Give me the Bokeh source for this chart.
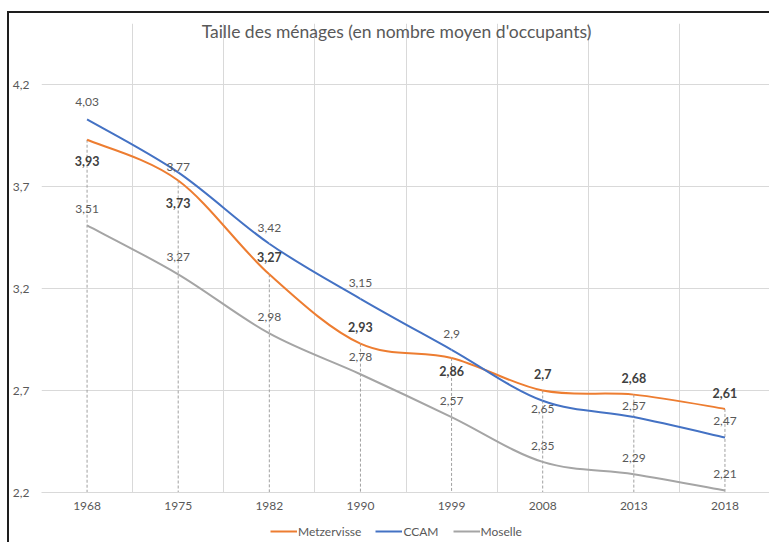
import numpy as np
from bokeh.plotting import figure
from bokeh.layouts import column
from bokeh.models import FixedTicker, Label, Legend, LegendItem, ColumnDataSource
from bokeh.core.properties import value
from bokeh.embed import file_html
from bokeh.resources import INLINE

# ---- data ----
years = ["1968", "1975", "1982", "1990", "1999", "2008", "2013", "2018"]
metzervisse = [3.93, 3.73, 3.27, 2.93, 2.86, 2.70, 2.68, 2.61]
ccam = [4.03, 3.77, 3.42, 3.15, 2.90, 2.65, 2.57, 2.47]
moselle = [3.51, 3.27, 2.98, 2.78, 2.57, 2.35, 2.29, 2.21]
y_ticks = [2.2, 2.7, 3.2, 3.7, 4.2]
series_names = ["Metzervisse", "CCAM", "Moselle"]
title_text = "Taille des ménages (en nombre moyen d'occupants)"

# ---- label offsets (screen px, style only) ----
off_metz = [21, 22, -17, -17, 13, -17, -17, -16]
off_ccam = [-17, -5, -16, -16, -16, 8, -11, -16]
off_mos = [-16, -17, -16, -17, -16, -16, -16, -16]

FONT = "Lato"
TXT = "#595959"
C_METZ = "#ED7D31"
C_CCAM = "#4472C4"
C_MOS = "#A5A5A5"
GRID = "#D9D9D9"
BORDER = "2px solid #1e1e1e"

def fmt(v):
    return f"{v:g}".replace(".", ",")

xs = list(range(len(years)))

def bezier_source(ys):
    P = np.array([[x, y] for x, y in zip(xs, ys)], dtype=float)
    n = len(P)
    d = dict(x0=[], y0=[], x1=[], y1=[], cx0=[], cy0=[], cx1=[], cy1=[])
    for i in range(n - 1):
        p0 = P[i - 1] if i > 0 else P[i]
        p1 = P[i]
        p2 = P[i + 1]
        p3 = P[i + 2] if i + 2 < n else P[i + 1]
        c1 = p1 + (p2 - p0) / 6.0
        c2 = p2 - (p3 - p1) / 6.0
        d["x0"].append(p1[0]); d["y0"].append(p1[1])
        d["x1"].append(p2[0]); d["y1"].append(p2[1])
        d["cx0"].append(c1[0]); d["cy0"].append(c1[1])
        d["cx1"].append(c2[0]); d["cy1"].append(c2[1])
    return ColumnDataSource(d)

W = 762
LEG_H = 26
p = figure(width=W, height=505, output_backend="svg", toolbar_location=None,
           x_range=(-0.5, len(years) - 0.5), y_range=(2.2, 4.5),
           min_border_left=31, min_border_right=1, min_border_top=10,
           min_border_bottom=26)
p.margin = (11, 0, 0, 7)
p.styles = {"border-top": BORDER, "border-left": BORDER}
p.outline_line_color = None
p.background_fill_color = "white"
p.border_fill_color = "white"

# grids
p.xgrid.ticker = FixedTicker(ticks=[i - 0.5 for i in range(len(years) + 1)])
p.xgrid.grid_line_color = GRID
p.ygrid.ticker = FixedTicker(ticks=y_ticks)
p.ygrid.grid_line_color = GRID

# axes
p.xaxis.ticker = FixedTicker(ticks=xs)
p.xaxis.major_label_overrides = {i: y for i, y in enumerate(years)}
p.yaxis.ticker = FixedTicker(ticks=y_ticks)
p.yaxis.major_label_overrides = {t: fmt(t) for t in y_ticks}
for ax in (p.xaxis, p.yaxis):
    ax.major_tick_line_color = None
    ax.minor_tick_line_color = None
    ax.major_tick_out = 0
    ax.major_tick_in = 0
    ax.minor_tick_out = 0
    ax.minor_tick_in = 0
    ax.major_label_text_font = FONT
    ax.major_label_text_font_size = "12px"
    ax.major_label_text_color = TXT
p.xaxis.axis_line_color = GRID
p.yaxis.axis_line_color = None
p.xaxis.major_label_standoff = 9
p.yaxis.major_label_standoff = 12

# drop lines from Metzervisse points
p.segment(x0=xs, y0=metzervisse, x1=xs, y1=[y_ticks[0]] * len(xs),
          line_color="#A0A0A0", line_width=1, line_dash="3 2")

# smoothed lines
for ys, col in ((moselle, C_MOS), (metzervisse, C_METZ), (ccam, C_CCAM)):
    p.bezier(x0="x0", y0="y0", x1="x1", y1="y1", cx0="cx0", cy0="cy0",
             cx1="cx1", cy1="cy1", source=bezier_source(ys),
             line_color=col, line_width=2)

# data labels
p.text(x=xs, y=ccam, text=[fmt(v) for v in ccam], y_offset=off_ccam,
       text_font=value(FONT), text_font_size="12px", text_color=TXT,
       text_align="center", text_baseline="middle")
p.text(x=xs, y=moselle, text=[fmt(v) for v in moselle], y_offset=off_mos,
       text_font=value(FONT), text_font_size="12px", text_color=TXT,
       text_align="center", text_baseline="middle")
p.text(x=xs, y=metzervisse, text=[fmt(v) for v in metzervisse], y_offset=off_metz,
       text_font=value(FONT), text_font_size="12.5px", text_color="#404040",
       text_font_style="bold", text_align="center", text_baseline="middle")

# title inside plot area
p.add_layout(Label(x=355, y=461, x_units="screen", y_units="screen",
                   text=title_text, text_font=FONT, text_font_size="17.5px",
                   text_color=TXT, text_align="center", text_baseline="middle"))

# legend strip (separate small figure below the chart)
pl = figure(width=W, height=LEG_H, output_backend="svg", toolbar_location=None,
            x_range=(0, 1), y_range=(0, 1), x_axis_type=None, y_axis_type=None,
            min_border_left=0, min_border_right=0, min_border_top=0,
            min_border_bottom=0)
pl.margin = (0, 0, 0, 7)
pl.styles = {"border-left": BORDER}
pl.outline_line_color = None
pl.xgrid.visible = False
pl.ygrid.visible = False
pl.background_fill_color = "white"
pl.border_fill_color = "white"
items = []
for name, col in zip(series_names, (C_METZ, C_CCAM, C_MOS)):
    r = pl.line(x=[5, 6], y=[5, 6], line_color=col, line_width=2)
    items.append(LegendItem(label=name, renderers=[r]))
legend = Legend(items=items, orientation="horizontal", location=(229, 3),
                glyph_width=27, glyph_height=16, label_standoff=1, spacing=14,
                padding=0, margin=0, border_line_color=None,
                background_fill_alpha=0, label_text_font=FONT,
                label_text_font_size="12px", label_text_color=TXT,
                label_height=16)
pl.add_layout(legend)

layout = column(p, pl, spacing=0)
open("out.html", "w").write(file_html(layout, INLINE))
